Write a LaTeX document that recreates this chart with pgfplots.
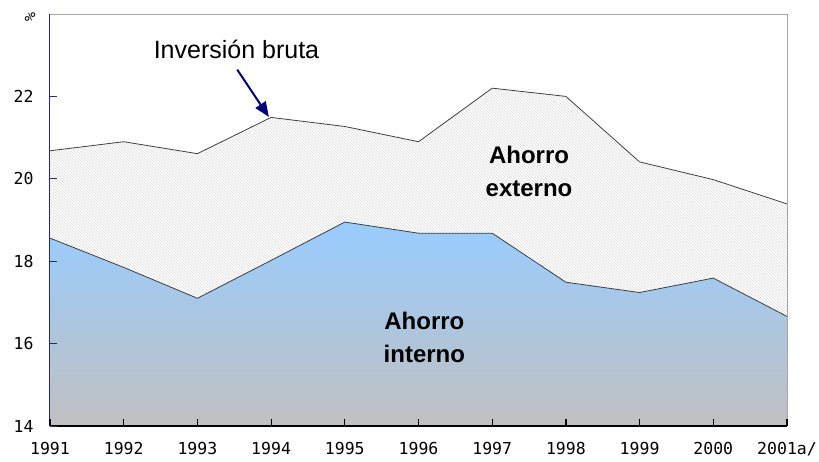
\documentclass[border=0pt]{standalone}
\usepackage{fontspec}
\setmainfont{Liberation Sans}
\newfontfamily\monofont{DejaVu Sans Mono}
\usepackage{pgfplots}
\pgfplotsset{compat=1.18}
\usetikzlibrary{patterns,calc,arrows.meta}
\definecolor{navyaxis}{RGB}{40,40,130}
\definecolor{arrowblue}{RGB}{0,0,128}
\definecolor{bluetop}{RGB}{153,204,255}
\definecolor{graybot}{RGB}{192,192,192}
\begin{document}
\begin{tikzpicture}
\begin{axis}[
  name=ax,
  scale only axis,
  width=737pt, height=412pt,
  xmin=0, xmax=10, ymin=14, ymax=24,
  xtick={0,...,10},
  xticklabels={1991,1992,1993,1994,1995,1996,1997,1998,1999,2000,2001a/},
  ytick={14,16,18,20,22},
  xtick pos=bottom, ytick pos=left,
  axis line style={draw=none},
  axis on top,
  tick align=inside,
  xtick style={draw=black, line width=1.2pt},
  ytick style={draw=navyaxis, line width=1pt},
  major tick length=7pt,
  ticklabel style={font=\monofont\fontsize{16.5}{17}\selectfont, text=black},
  xticklabel style={yshift=-13pt},
  yticklabel style={xshift=-13pt},
  /pgf/number format/assume math mode=true,
  clip=false,
]
% Inversion bruta (total) - hatched area
\addplot[draw=none, fill=white, pattern=north west lines, pattern color=gray!28] coordinates {
 (0,20.68) (1,20.90) (2,20.61) (3,21.49) (4,21.27) (5,20.90) (6,22.20) (7,22.00) (8,20.41) (9,19.98) (10,19.39)
} \closedcycle;
\addplot[draw=black!75, line width=0.8pt, forget plot] coordinates {
 (0,20.68) (1,20.90) (2,20.61) (3,21.49) (4,21.27) (5,20.90) (6,22.20) (7,22.00) (8,20.41) (9,19.98) (10,19.39)
};
% Ahorro interno - gradient area
\addplot[draw=none, top color=bluetop, bottom color=graybot] coordinates {
 (0,18.56) (1,17.85) (2,17.10) (3,18.02) (4,18.95) (5,18.68) (6,18.68) (7,17.49) (8,17.24) (9,17.59) (10,16.66)
} \closedcycle;
\addplot[draw=black!75, line width=0.8pt, forget plot] coordinates {
 (0,18.56) (1,17.85) (2,17.10) (3,18.02) (4,18.95) (5,18.68) (6,18.68) (7,17.49) (8,17.24) (9,17.59) (10,16.66)
};
% frame
\draw[gray!70, line width=0.8pt] (rel axis cs:0,1) -- (rel axis cs:1,1) -- (rel axis cs:1,0);
\draw[navyaxis, line width=1pt] (rel axis cs:0,0) -- (rel axis cs:0,1);
\draw[black, line width=1.2pt] (rel axis cs:0,0) -- (rel axis cs:1,0);
% labels
\node[font=\fontsize{25}{27}\selectfont, anchor=center] at (axis cs:2.53,23.14) {Inversión bruta};
\draw[arrowblue, line width=2pt, -{Triangle[length=15pt,width=12pt]}] (axis cs:2.54,22.65) -- (axis cs:2.97,21.50);
\node[font=\bfseries\fontsize{24}{33}\selectfont, align=center] at (axis cs:6.5,20.17) {Ahorro\\externo};
\node[font=\bfseries\fontsize{24}{33}\selectfont, align=center] at (axis cs:5.08,16.15) {Ahorro\\interno};
\node[font=\monofont\fontsize{15}{15}\selectfont, rotate=-90] at ($(rel axis cs:0,1)+(-20pt,-3pt)$) {\%};
\end{axis}
\pgfresetboundingbox
\path[use as bounding box] ($(ax.south west)+(-50pt,-35pt)$) rectangle ($(ax.north east)+(32pt,14pt)$);
\end{tikzpicture}
\end{document}
